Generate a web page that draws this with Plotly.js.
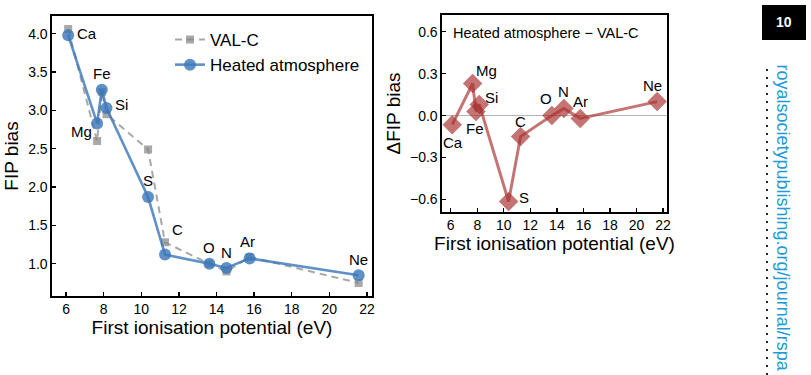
<!DOCTYPE html>
<html>
<head>
<meta charset="utf-8">
<script src="https://cdn.plot.ly/plotly-3.0.1.min.js"></script>
<style>
  html, body { margin: 0; padding: 0; background: #fff; }
  #chart { width: 811px; height: 375px; }
</style>
</head>
<body>
<div id="chart"></div>
<script>
// Elements ordered by first ionisation potential
const elements = ['Ca', 'Mg', 'Fe', 'Si', 'S', 'C', 'O', 'N', 'Ar', 'Ne'];
const fip = [6.11, 7.65, 7.90, 8.15, 10.36, 11.26, 13.62, 14.53, 15.76, 21.56];

// FIP bias for the two model atmospheres
const fipBiasValC = [4.06, 2.60, 3.24, 2.95, 2.49, 1.28, 1.00, 0.90, 1.09, 0.75];
const fipBiasHeated = [3.98, 2.83, 3.27, 3.03, 1.87, 1.12, 1.00, 0.945, 1.07, 0.85];

// Difference: heated atmosphere minus VAL-C
const deltaFipBias = [-0.065, 0.23, 0.03, 0.08, -0.615, -0.15, 0.0, 0.05, -0.02, 0.10];

// Tick values
const fipTicks = [6, 8, 10, 12, 14, 16, 18, 20, 22];
const biasTicks = [1.0, 1.5, 2.0, 2.5, 3.0, 3.5, 4.0];
const deltaTicks = [-0.6, -0.3, 0.0, 0.3, 0.6];

// Pixel offsets for the element labels in each panel
const leftLabelShift = {
  Ca: [19, 2], Mg: [-16, -8], Fe: [0, 16], Si: [15, 4], S: [0, 17],
  C: [12, 25], O: [0, 16], N: [0, 16], Ar: [-2, 17], Ne: [0, 16]
};
const rightLabelShift = {
  Ca: [1, -18], Mg: [14, 13], Fe: [-1, -17], Si: [12, 7], S: [15, 4],
  C: [0, 15], O: [-6, 17], N: [0, 17], Ar: [0, 17], Ne: [-5, 16]
};

const W = 811, H = 375;
const px = (a, b) => [a / W, b / W];
const py = (top, bottom) => [(H - bottom) / H, (H - top) / H];

const FONT = 'Liberation Sans, Arial, sans-serif';
const blue = 'rgba(60,120,185,0.82)';
const grey = 'rgba(135,135,135,0.72)';
const red = 'rgba(170,50,50,0.68)';

const traces = [
  {
    x: fip, y: fipBiasValC, name: 'VAL-C', type: 'scatter', mode: 'lines+markers',
    xaxis: 'x', yaxis: 'y',
    line: { color: grey, width: 2, dash: '7px,5px' },
    marker: { symbol: 'square', size: 8, color: grey }
  },
  {
    x: fip, y: fipBiasHeated, name: 'Heated atmosphere', type: 'scatter', mode: 'lines+markers',
    xaxis: 'x', yaxis: 'y',
    line: { color: blue, width: 2.6 },
    marker: { symbol: 'circle', size: 12, color: blue }
  },
  {
    x: fip, y: deltaFipBias, name: 'delta', type: 'scatter', mode: 'lines+markers',
    xaxis: 'x2', yaxis: 'y2', showlegend: false,
    line: { color: red, width: 3 },
    marker: { symbol: 'diamond', size: 15, color: red }
  }
];

const axisCommon = {
  showline: true, linecolor: '#000', linewidth: 1.6, mirror: true,
  ticks: 'inside', ticklen: 4, tickwidth: 1.3, tickcolor: '#000',
  showgrid: false, zeroline: false,
  tickfont: { family: FONT, size: 14, color: '#000' }
};
const titleFont = { family: FONT, size: 19, color: '#000' };
const labelFont = { family: FONT, size: 15, color: '#000' };

const annotations = [];
elements.forEach((el, i) => {
  const a = leftLabelShift[el];
  annotations.push({
    x: fip[i], y: fipBiasHeated[i], xref: 'x', yref: 'y', text: el, showarrow: false,
    xshift: a[0], yshift: a[1], font: labelFont
  });
  const b = rightLabelShift[el];
  annotations.push({
    x: fip[i], y: deltaFipBias[i], xref: 'x2', yref: 'y2', text: el, showarrow: false,
    xshift: b[0], yshift: b[1], font: labelFont
  });
});

annotations.push({
  x: 546 / W, y: (H - 33) / H, xref: 'paper', yref: 'paper',
  xanchor: 'center', yanchor: 'middle',
  text: 'Heated atmosphere \u2212 VAL-C', showarrow: false,
  font: { family: FONT, size: 14.5, color: '#000' }
});

// Page number and journal address down the right edge
annotations.push({
  x: 784 / W, y: (H - 22) / H, xref: 'paper', yref: 'paper',
  xanchor: 'center', yanchor: 'middle',
  text: '<b>10</b>', showarrow: false,
  font: { family: FONT, size: 14, color: '#fff' }
});
annotations.push({
  x: 783 / W, y: (H - 62) / H, xref: 'paper', yref: 'paper',
  xanchor: 'center', yanchor: 'top', textangle: 90,
  text: 'royalsocietypublishing.org/journal/rspa', showarrow: false,
  font: { family: FONT, size: 18, color: '#1e9ad6' }
});

const layout = {
  width: W, height: H,
  margin: { l: 0, r: 0, t: 0, b: 0 },
  paper_bgcolor: '#fff', plot_bgcolor: '#fff',
  font: { family: FONT, color: '#000' },
  showlegend: true,
  legend: {
    x: 170 / W, y: (H - 22) / H, xanchor: 'left', yanchor: 'top',
    bgcolor: 'rgba(0,0,0,0)', borderwidth: 0,
    font: { family: FONT, size: 17, color: '#000' },
    tracegroupgap: 0, itemwidth: 30
  },
  xaxis: Object.assign({}, axisCommon, {
    domain: px(52, 372), range: [5.25, 22.27],
    tickvals: fipTicks, anchor: 'y',
    title: { text: 'First ionisation potential (eV)', font: titleFont, standoff: 4 }
  }),
  yaxis: Object.assign({}, axisCommon, {
    domain: py(16, 296), range: [0.58, 4.23],
    tickvals: biasTicks, tickformat: '.1f', anchor: 'x',
    title: { text: 'FIP bias', font: titleFont, standoff: 4 }
  }),
  xaxis2: Object.assign({}, axisCommon, {
    domain: px(442, 667), range: [5.34, 22.3],
    tickvals: fipTicks, anchor: 'y2',
    title: { text: 'First ionisation potential (eV)', font: titleFont, standoff: 4 }
  }),
  yaxis2: Object.assign({}, axisCommon, {
    domain: py(15, 212), range: [-0.69, 0.72],
    tickvals: deltaTicks, tickformat: '.1f', anchor: 'x2',
    zeroline: true, zerolinecolor: '#b4b4b4', zerolinewidth: 1.6,
    title: { text: '\u0394FIP bias', font: titleFont, standoff: 4 }
  }),
  shapes: [
    {
      type: 'rect', xref: 'paper', yref: 'paper', layer: 'below',
      x0: 762 / W, x1: 806 / W, y0: (H - 40) / H, y1: (H - 5) / H,
      fillcolor: '#000', line: { width: 0 }
    },
    {
      type: 'line', xref: 'paper', yref: 'paper',
      x0: 767 / W, x1: 767 / W, y0: 0, y1: (H - 65) / H,
      line: { color: '#222', width: 2, dash: '2px,6px' }
    }
  ],
  annotations: annotations
};

Plotly.newPlot('chart', traces, layout, { displayModeBar: false, staticPlot: true });
</script>
</body>
</html>
